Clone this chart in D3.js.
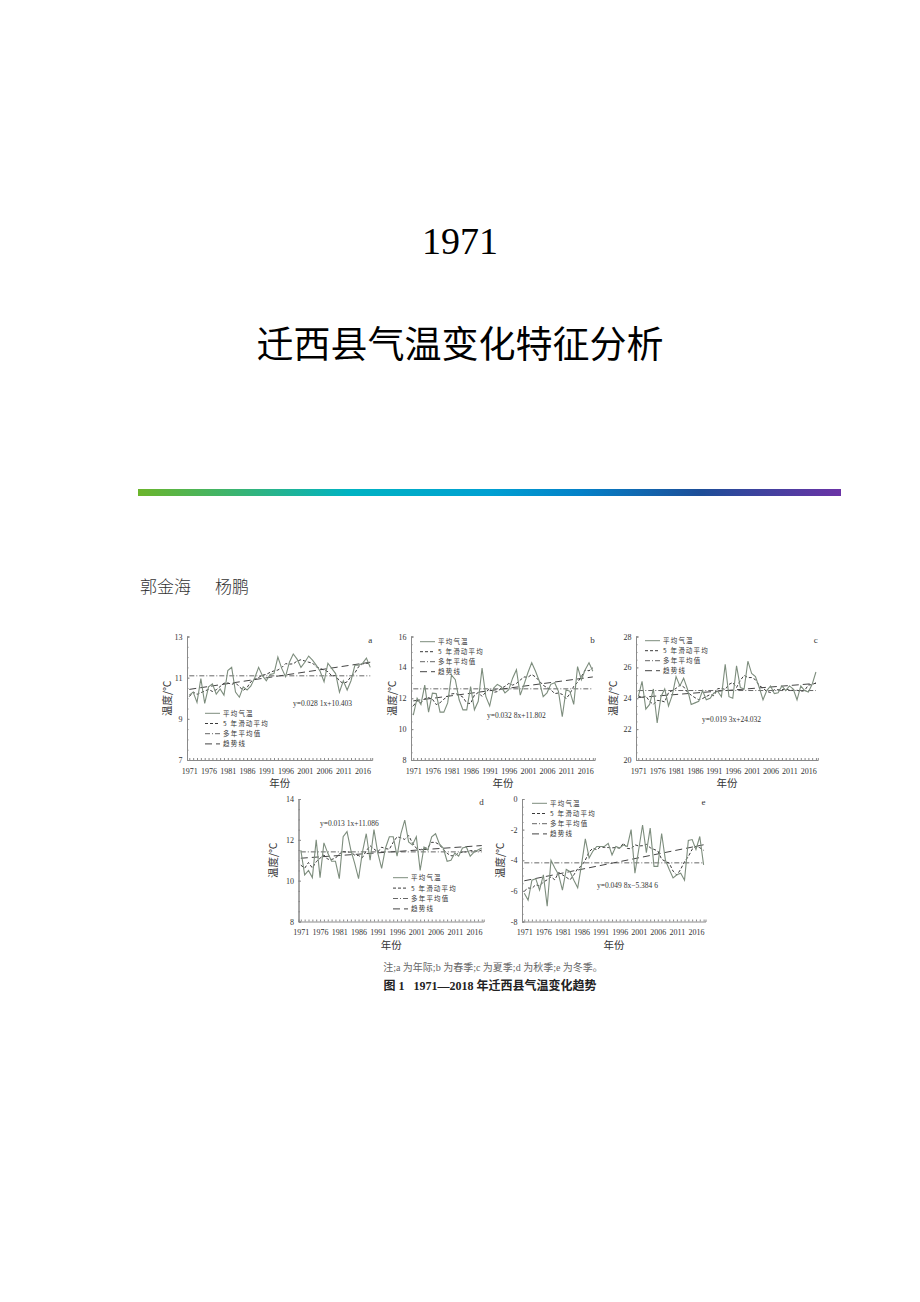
<!DOCTYPE html>
<html>
<head>
<meta charset="utf-8">
<script src="https://cdn.jsdelivr.net/npm/d3@7"></script>
<style>
  body { margin: 0; background: #fff; }
  svg { display: block; }
</style>
</head>
<body>
<div id="page"></div>
<script>
// years on the x axis
var years = d3.range(1971, 2019);
var xTickLabels = ["1971","1976","1981","1986","1991","1996","2001","2006","2011","2016"];

// a - annual
var annualTemp = [10.15,10.3,9.8,10.95,9.75,10.55,10.7,10.2,10.45,10.15,
  11.35,11.5,10.3,10.05,10.55,10.4,10.6,11.0,11.5,11.1,
  10.85,11.15,11.2,12.0,11.45,11.05,11.75,12.15,11.9,11.5,
  11.75,12.05,11.85,11.6,11.3,10.8,11.7,11.45,11.2,10.3,
  10.85,10.4,10.85,11.6,11.6,11.7,11.95,11.5];
var annualMA = [10.08,10.3,10.19,10.27,10.35,10.43,10.33,10.41,10.57,10.73,
  10.75,10.67,10.75,10.56,10.38,10.52,10.81,10.92,11.01,11.12,
  11.16,11.26,11.33,11.37,11.49,11.68,11.66,11.67,11.81,11.87,
  11.81,11.75,11.71,11.52,11.45,11.37,11.29,11.09,11.1,10.84,
  10.72,10.8,11.06,11.23,11.54,11.67,11.69,11.72];

// b - spring
var springTemp = [10.9,12.0,11.6,12.85,11.1,12.33,12.3,11.1,11.1,11.7,
  13.5,13.2,11.9,11.25,11.25,12.75,11.25,11.8,13.95,12.1,
  11.5,12.65,12.9,12.75,12.35,12.55,13.3,13.85,12.2,12.9,
  13.65,14.3,13.75,13.1,12.1,12.35,12.9,13.0,12.45,10.8,
  12.55,12.45,11.6,14.05,13.2,13.85,14.3,13.75];
var springMA = [11.5,11.84,11.69,11.98,12.04,11.94,11.59,11.71,11.94,12.12,
  12.28,12.31,12.22,12.07,11.68,11.66,12.2,12.37,12.12,12.4,
  12.62,12.38,12.43,12.64,12.77,12.96,12.85,12.96,13.18,13.38,
  13.36,13.54,13.38,13.12,12.84,12.69,12.56,12.3,12.34,12.25,
  11.97,12.29,12.77,13.03,13.4,13.83,13.78,13.97];

// c - summer
var summerTemp = [24.1,25.1,23.3,23.6,24.6,22.4,24.1,24.6,23.5,24.2,
  25.4,24.8,25.3,24.6,23.6,23.7,23.8,24.5,23.9,24.0,
  24.35,24.45,24.1,26.2,24.1,24.0,26.1,24.7,24.6,26.4,
  25.6,25.4,24.7,23.9,24.5,24.8,24.3,24.35,24.8,24.5,
  24.8,24.6,23.9,24.8,24.5,24.4,24.9,25.7];
var summerMA = [24.17,24.03,24.14,23.8,23.6,23.86,23.84,23.76,24.36,24.5,
  24.64,24.86,24.74,24.4,24.2,24.04,23.9,23.98,24.11,24.24,
  24.16,24.62,24.64,24.57,24.9,25.02,24.7,25.16,25.48,25.34,
  25.34,25.2,24.82,24.66,24.44,24.37,24.55,24.55,24.55,24.61,
  24.52,24.52,24.52,24.44,24.5,24.86,24.88,25.0];

// d - autumn
var autumnTemp = [11.5,10.28,10.5,10.15,12.0,10.15,11.85,11.35,10.95,10.95,
  10.1,12.15,12.4,11.5,10.85,10.1,11.4,12.3,11.0,12.5,
  11.35,10.6,11.6,12.15,12.15,11.2,12.3,12.97,11.9,11.75,
  12.15,10.5,11.65,11.5,12.15,12.3,11.8,11.6,10.95,11.0,
  11.35,11.2,11.6,11.65,11.2,11.4,11.5,11.6];
var autumnMA = [10.76,10.61,10.89,10.62,10.93,11.1,11.26,11.05,11.04,11.1,
  11.31,11.42,11.4,11.4,11.25,11.23,11.13,11.46,11.71,11.55,
  11.41,11.64,11.57,11.54,11.88,12.15,12.1,12.02,12.21,11.85,
  11.59,11.51,11.59,11.62,11.88,11.87,11.76,11.53,11.34,11.22,
  11.22,11.36,11.4,11.41,11.47,11.47,11.43,11.5];

// e - winter
var winterTemp = [-6.15,-6.6,-5.3,-5.2,-5.95,-4.95,-7.0,-4.0,-4.5,-4.95,
  -5.95,-4.6,-4.75,-5.3,-5.8,-4.3,-2.6,-3.85,-3.4,-3.1,
  -3.1,-3.1,-2.9,-3.65,-3.1,-3.2,-3.0,-3.1,-2.0,-4.85,
  -3.3,-1.7,-3.5,-1.9,-4.4,-4.4,-2.25,-4.0,-4.6,-5.15,
  -4.95,-4.85,-5.3,-2.7,-2.65,-3.3,-2.45,-4.3];
var winterMA = [-6.02,-5.81,-5.84,-5.6,-5.68,-5.42,-5.28,-5.08,-5.28,-4.8,
  -4.95,-5.11,-5.28,-4.95,-4.55,-4.37,-3.99,-3.45,-3.21,-3.31,
  -3.12,-3.17,-3.17,-3.19,-3.17,-3.21,-2.88,-3.23,-3.25,-2.99,
  -3.07,-3.05,-2.96,-3.18,-3.29,-3.39,-3.93,-4.08,-4.19,-4.71,
  -4.97,-4.59,-4.09,-3.76,-3.28,-3.08,-3.18,-3.35];

// multi-year mean, trend line at 1971 / 2018, equation text (order a..e)
var meanTemp = [11.09, 12.61, 24.50, 11.41, -4.17];
var trendStart = [10.43, 11.83, 24.05, 11.10, -5.34];
var trendEnd = [11.75, 13.38, 24.96, 11.72, -2.99];
var equations = ["y=0.028 1x+10.403","y=0.032 8x+11.802","y=0.019 3x+24.032","y=0.013 1x+11.086","y=0.049 8x\u22125.384 6"];
var panelLetters = ["a","b","c","d","e"];
var yTicks = [[7,9,11,13],[8,10,12,14,16],[20,22,24,26,28],[8,10,12,14],[-8,-6,-4,-2,0]];
var legendNames = ["平均气温","5 年滑动平均","多年平均值","趋势线"];
var seriesTemp = [annualTemp, springTemp, summerTemp, autumnTemp, winterTemp];
var seriesMA = [annualMA, springMA, summerMA, autumnMA, winterMA];

var serif = "'Liberation Serif','Times New Roman',serif";
var cjk = "'Noto Sans CJK SC','Noto Sans',sans-serif";

// layout of each small chart
var layout = [
  {ax:187, ppy:3.85, top:636.5, bot:760, eq:[293,706], leg:[205,713.3,10.2], xt:167},
  {ax:411, ppy:3.82, top:636.5, bot:760, eq:[487,718], leg:[420,641.7,10], xt:392},
  {ax:636, ppy:3.78, top:636.5, bot:760, eq:[702,722], leg:[645,640.7,10], xt:613},
  {ax:298.5, ppy:3.85, top:799, bot:921.5, eq:[320,826], leg:[393,877.7,10.4], xt:273},
  {ax:522, ppy:3.815, top:799, bot:921.5, eq:[597,888], leg:[532,803.3,10.2], xt:500}
];

var styles = [
  {dash:null, color:"#7d8d7d", w:1.1},
  {dash:"3,2", color:"#3a3a3a", w:1},
  {dash:"5,2,1,2", color:"#666", w:1},
  {dash:"7,4", color:"#444", w:1}
];

var svg = d3.select("#page").append("svg")
  .attr("width", 920)
  .attr("height", 1302);

svg.append("rect").attr("width", 920).attr("height", 1302).attr("fill", "#fff");

// header
svg.append("text")
  .attr("x", 460).attr("y", 254)
  .attr("text-anchor", "middle")
  .style("font-family", serif)
  .style("font-size", "38px")
  .text("1971");

svg.append("text")
  .attr("x", 460).attr("y", 358)
  .attr("text-anchor", "middle")
  .style("font-family", cjk)
  .style("font-size", "37px")
  .style("font-weight", 400)
  .text("迁西县气温变化特征分析");

var grad = svg.append("defs").append("linearGradient").attr("id", "bar");
var stops = [[0,"#6cb52c"],[0.3,"#00b3c2"],[0.5,"#00a0d2"],[0.63,"#0481c8"],[0.8,"#1d4e98"],[1,"#6b33a6"]];
grad.selectAll("stop").data(stops).enter().append("stop")
  .attr("offset", function(d){ return d[0]; })
  .attr("stop-color", function(d){ return d[1]; });

svg.append("rect")
  .attr("x", 138).attr("y", 489)
  .attr("width", 703).attr("height", 7)
  .attr("fill", "url(#bar)");

svg.append("text")
  .attr("x", 140).attr("y", 593)
  .style("font-family", cjk)
  .style("font-size", "17px")
  .style("font-weight", 300)
  .style("fill", "#333")
  .text("郭金海");
svg.append("text")
  .attr("x", 215).attr("y", 593)
  .style("font-family", cjk)
  .style("font-size", "17px")
  .style("font-weight", 300)
  .style("fill", "#333")
  .text("杨鹏");

function drawPanel(i){
  var L = layout[i];
  var temp = seriesTemp[i], ma = seriesMA[i];
  var yt = yTicks[i];

  var x = d3.scaleLinear()
    .domain([1970.4, 2018.5])
    .range([L.ax, L.ax + 48.1 * L.ppy]);
  var y = d3.scaleLinear()
    .domain([yt[0], yt[yt.length-1]])
    .range([L.bot, L.top]);

  var g = svg.append("g");

  // bottom axis, a tick every year
  g.append("g")
    .attr("transform", "translate(0," + L.bot + ")")
    .call(d3.axisBottom(x)
      .tickValues(years)
      .tickSize(-2)
      .tickPadding(8)
      .tickFormat(function(d){ return xTickLabels.indexOf(String(d)) > -1 ? d : ""; }));

  // left axis, minor ticks too
  var minor = d3.range(yt[0], yt[yt.length-1] + 0.01, 0.5);
  g.append("g")
    .attr("transform", "translate(" + L.ax + ",0)")
    .call(d3.axisLeft(y).tickValues(minor).tickSize(-1.5).tickFormat(""));
  g.append("g")
    .attr("transform", "translate(" + L.ax + ",0)")
    .call(d3.axisLeft(y)
      .tickValues(yt)
      .tickSize(-2.5)
      .tickPadding(4.5)
      .tickFormat(function(d){ return d < 0 ? "-" + Math.abs(d) : d; }));

  g.selectAll(".domain").attr("stroke", "#8a8a8a");
  g.selectAll(".tick line").attr("stroke", "#8a8a8a");
  g.selectAll(".tick text")
    .style("font-family", serif)
    .style("font-size", "8px")
    .style("fill", "#333");

  // multi-year mean
  g.append("line")
    .attr("x1", x(1971)).attr("x2", x(2018))
    .attr("y1", y(meanTemp[i])).attr("y2", y(meanTemp[i]))
    .attr("stroke", styles[2].color)
    .attr("stroke-width", styles[2].w)
    .attr("stroke-dasharray", styles[2].dash);

  // trend line
  g.append("line")
    .attr("x1", x(1971)).attr("x2", x(2018))
    .attr("y1", y(trendStart[i])).attr("y2", y(trendEnd[i]))
    .attr("stroke", styles[3].color)
    .attr("stroke-width", styles[3].w)
    .attr("stroke-dasharray", styles[3].dash);

  var line = d3.line()
    .x(function(d, k){ return x(years[k]); })
    .y(function(d){ return y(d); });

  g.append("path").datum(ma)
    .attr("d", line)
    .attr("fill", "none")
    .attr("stroke", styles[1].color)
    .attr("stroke-width", styles[1].w)
    .attr("stroke-dasharray", styles[1].dash);

  g.append("path").datum(temp)
    .attr("d", line)
    .attr("fill", "none")
    .attr("stroke", styles[0].color)
    .attr("stroke-width", styles[0].w);

  // legend
  var leg = g.selectAll(".leg").data(legendNames).enter().append("g")
    .attr("transform", function(d, k){ return "translate(" + L.leg[0] + "," + (L.leg[1] + k * L.leg[2]) + ")"; });
  leg.append("line")
    .attr("x1", 0).attr("x2", 15)
    .attr("stroke", function(d, k){ return styles[k].color; })
    .attr("stroke-width", 1)
    .attr("stroke-dasharray", function(d, k){ return styles[k].dash; });
  leg.append("text")
    .attr("x", 18).attr("y", 2.5)
    .style("font-family", cjk)
    .style("font-size", "6.5px")
    .style("letter-spacing", "1.2px")
    .style("fill", "#333")
    .text(function(d){ return d; });

  // equation and panel letter
  g.append("text")
    .attr("x", L.eq[0]).attr("y", L.eq[1])
    .style("font-family", serif)
    .style("font-size", "7.5px")
    .style("fill", "#333")
    .text(equations[i]);

  g.append("text")
    .attr("x", x(2018.5)).attr("y", L.top + 6)
    .attr("text-anchor", "end")
    .style("font-family", serif)
    .style("font-size", "9px")
    .style("fill", "#333")
    .text(panelLetters[i]);

  // axis titles
  g.append("text")
    .attr("x", (x(1971) + x(2018)) / 2).attr("y", L.bot + 27)
    .attr("text-anchor", "middle")
    .style("font-family", cjk)
    .style("font-size", "10.5px")
    .style("fill", "#333")
    .text("年份");

  g.append("text")
    .attr("transform", "translate(" + L.xt + "," + ((L.top + L.bot) / 2) + ") rotate(-90)")
    .attr("text-anchor", "middle")
    .attr("dy", "0.35em")
    .style("font-family", cjk)
    .style("font-size", "10.5px")
    .style("fill", "#333")
    .text("温度/℃");
}

for (var i = 0; i < 5; i++){
  drawPanel(i);
}

// captions
svg.append("text")
  .attr("x", 493).attr("y", 971)
  .attr("text-anchor", "middle")
  .style("font-family", serif + ",'Noto Sans CJK SC'")
  .style("font-size", "10px")
  .style("fill", "#666")
  .text("注;a 为年际;b 为春季;c 为夏季;d 为秋季;e 为冬季。");

svg.append("text")
  .attr("x", 490).attr("y", 990)
  .attr("text-anchor", "middle")
  .style("font-family", serif + ",'Noto Sans CJK SC'")
  .style("font-size", "12px")
  .style("font-weight", "bold")
  .style("white-space", "pre")
  .style("fill", "#222")
  .text("图 1   1971\u20142018 年迁西县气温变化趋势");
</script>
</body>
</html>
